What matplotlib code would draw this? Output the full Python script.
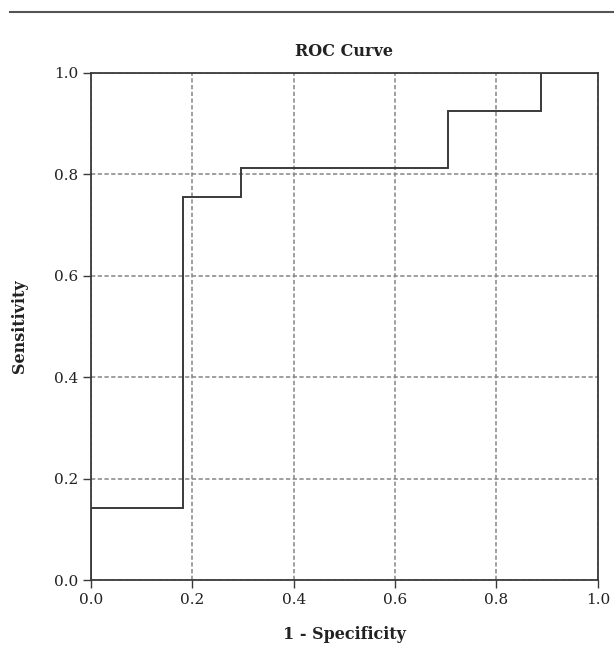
import matplotlib
matplotlib.use("Agg")
import matplotlib.pyplot as plt
from matplotlib.lines import Line2D

plt.rcParams["font.family"] = "serif"
plt.rcParams["font.serif"] = ["DejaVu Serif", "Liberation Serif"]

# ROC step curve (1 - specificity, sensitivity)
FPR = [0.0, 0.0, 0.182, 0.182, 0.296, 0.296, 0.704, 0.704, 0.888, 0.888, 1.0]
TPR = [0.0, 0.143, 0.143, 0.755, 0.755, 0.812, 0.812, 0.925, 0.925, 1.0, 1.0]
TICKS = [0.0, 0.2, 0.4, 0.6, 0.8, 1.0]

INK = "#3a3a3a"
GRID = "#858585"

fig = plt.figure(figsize=(6.15, 6.46), dpi=100)
ax = fig.add_axes([0.148, 0.102, 0.824, 0.785])

ax.plot(FPR, TPR, color=INK, linewidth=1.4, zorder=3, solid_joinstyle="miter")

ax.set_xlim(0, 1)
ax.set_ylim(0, 1)
ax.set_xticks(TICKS)
ax.set_yticks(TICKS)
ax.set_xticklabels([f"{t:.1f}" for t in TICKS])
ax.set_yticklabels([f"{t:.1f}" for t in TICKS])
ax.tick_params(labelsize=11, color=INK, labelcolor="#222222", length=6, width=1.0, pad=3)

ax.grid(True, linestyle=(0, (2.8, 1.6)), color=GRID, linewidth=1.1, zorder=1)
ax.set_axisbelow(True)

for side in ["left", "bottom", "right", "top"]:
    ax.spines[side].set_color(INK)
    ax.spines[side].set_linewidth(1.3)

ax.set_title("ROC Curve", fontsize=11.5, fontweight="bold", pad=12, color="#222222")
ax.set_xlabel("1 - Specificity", fontsize=11.5, fontweight="bold", labelpad=14, color="#222222")
ax.set_ylabel("Sensitivity", fontsize=11.5, fontweight="bold", labelpad=19, color="#222222")

# rule across the top of the figure
fig.add_artist(Line2D([10 / 615, 613 / 615], [1 - 12 / 646, 1 - 12 / 646],
                      transform=fig.transFigure, color="#555555", linewidth=1.5))

fig.savefig("out.png", dpi=100)
